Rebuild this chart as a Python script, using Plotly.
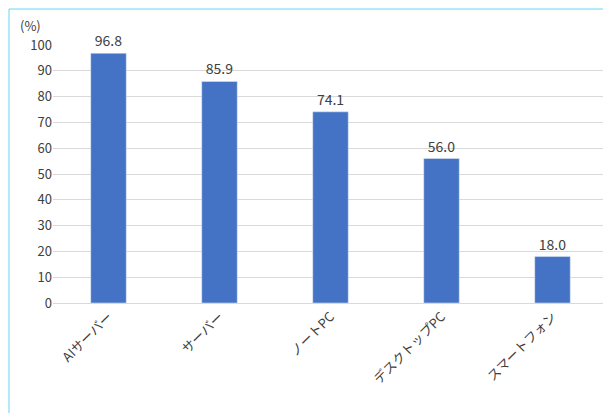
import plotly.graph_objects as go

categories = ["AIサーバー", "サーバー", "ノートPC", "デスクトップPC", "スマートフォン"]
values = [96.8, 85.9, 74.1, 56.0, 18.0]
labels = ["96.8", "85.9", "74.1", "56.0", "18.0"]

fig = go.Figure(go.Bar(
    x=categories, y=values, text=labels, textposition="outside",
    marker_color="#4472C4", width=0.32,
    textfont=dict(size=14, color="#404040"), cliponaxis=False,
))
fig.update_layout(
    width=611, height=413,
    margin=dict(l=45, r=11, t=37, b=118, autoexpand=False),
    paper_bgcolor="white", plot_bgcolor="white",
    font=dict(family="Noto Sans CJK JP", size=13, color="#404040"),
    showlegend=False,
    yaxis=dict(range=[0, 100], dtick=10, gridcolor="#D9D9D9", zeroline=False,
               showline=False, ticks="", tickfont=dict(size=13), automargin=False),
    xaxis=dict(tickangle=-45, showline=True, linecolor="#D9D9D9",
               tickfont=dict(size=13), automargin=False),
    annotations=[dict(text="(%)", xref="paper", yref="paper", x=-0.04, y=1.03,
                      xanchor="center", yanchor="bottom", showarrow=False,
                      font=dict(size=13))],
    shapes=[dict(type="rect", xref="paper", yref="paper", x0=-0.0793, x1=1.016,
                 y0=-0.4496, y1=1.1395, line=dict(color="#66D9F0", width=1))],
)
fig.write_html("out.html")
